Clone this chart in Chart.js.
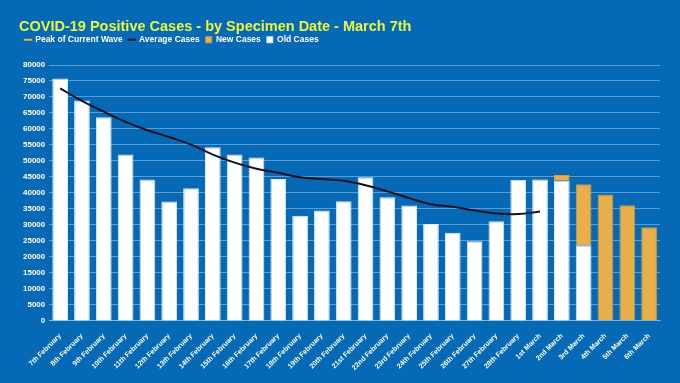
<!DOCTYPE html>
<html>
<head>
<meta charset="utf-8">
<script src="https://cdn.jsdelivr.net/npm/chart.js@4.4.0/dist/chart.umd.min.js"></script>
<style>
  html, body { margin: 0; padding: 0; background: #0669b5; }
  #wrap { width: 680px; height: 383px; }
</style>
</head>
<body>
<div id="wrap"><canvas id="chart" width="680" height="383"></canvas></div>
<script>
const labels = [
  '7th February', '8th February', '9th February', '10th February', '11th February',
  '12th February', '13th February', '14th February', '15th February', '16th February',
  '17th February', '18th February', '19th February', '20th February', '21st February',
  '22nd February', '23rd February', '24th February', '25th February', '26th February',
  '27th February', '28th February', '1st March', '2nd March', '3rd March',
  '4th March', '5th March', '6th March'
];

const oldCases = [
  75800, 68900, 63700, 52000, 44200, 37300, 41500, 54300, 52000, 51100,
  44400, 32900, 34500, 37400, 44900, 38700, 36100, 30300, 27600, 24900,
  31200, 44100, 44100, 43900, 23700, 0, 0, 0
];

const newCases = [
  0, 0, 0, 0, 0, 0, 0, 0, 0, 0,
  0, 0, 0, 0, 0, 0, 0, 0, 0, 0,
  0, 0, 300, 1700, 19000, 39500, 36200, 29300
];

const averageCases = [
  72700, 68800, 65400, 62200, 59600, 57500, 55100, 52000, 49500, 47600,
  46300, 44900, 44400, 43800, 42400, 40500, 38400, 36500, 35700, 34500,
  33600, 33400, 34200, null, null, null, null, null
];

const peakOfWave = [];

const yTicks = { min: 0, max: 80000, step: 5000 };

const WHITE = '#ffffff';
const ORANGE = '#e8af48';
const LINE = '#111122';
const PEAK = '#e8af48';
const TITLE = '#e9f53e';
const GRID = 'rgba(160, 200, 235, 0.55)';

const legendRank = ['Peak of Current Wave', 'Average Cases', 'New Cases', 'Old Cases'];

// extra gap under the legend
const legendGap = {
  id: 'legendGap',
  beforeInit(chart) {
    const fit = chart.legend.fit;
    chart.legend.fit = function () {
      fit.bind(chart.legend)();
      this.height += 11;
    };
  }
};

const config = {
  type: 'bar',
  data: {
    labels: labels,
    datasets: [{
      label: 'Old Cases',
      data: oldCases,
      backgroundColor: WHITE,
      borderColor: '#dfe9f5',
      borderWidth: 1,
      stack: 'cases',
      order: 2,
      pointStyle: 'rect'
    }, {
      label: 'New Cases',
      data: newCases,
      backgroundColor: ORANGE,
      borderColor: '#d49a36',
      borderWidth: 1,
      stack: 'cases',
      order: 3,
      pointStyle: 'rect'
    }, {
      type: 'line',
      label: 'Average Cases',
      data: averageCases,
      borderColor: LINE,
      backgroundColor: LINE,
      borderWidth: 2,
      pointRadius: 0,
      tension: 0.4,
      stack: 'avg',
      order: 1,
      pointStyle: 'line'
    }, {
      type: 'line',
      label: 'Peak of Current Wave',
      data: peakOfWave,
      borderColor: PEAK,
      backgroundColor: PEAK,
      borderWidth: 2,
      pointRadius: 0,
      stack: 'peak',
      order: 0,
      pointStyle: 'line'
    }]
  },
  options: {
    responsive: false,
    animation: false,
    layout: { padding: { left: 19, right: 20, top: 0, bottom: 8 } },
    plugins: {
      title: {
        display: true,
        text: 'COVID-19 Positive Cases - by Specimen Date - March 7th',
        align: 'start',
        color: TITLE,
        font: { family: 'Liberation Sans', size: 14.5, weight: 'bold', lineHeight: 1 },
        padding: { top: 20, bottom: -5 }
      },
      legend: {
        align: 'start',
        labels: {
          color: WHITE,
          usePointStyle: true,
          boxWidth: 6,
          boxHeight: 6,
          padding: 6,
          font: { family: 'Liberation Sans', size: 8.5, weight: 'bold' },
          sort: (a, b) => legendRank.indexOf(a.text) - legendRank.indexOf(b.text)
        }
      },
      tooltip: { enabled: false }
    },
    scales: {
      x: {
        stacked: true,
        categoryPercentage: 1,
        barPercentage: 0.64,
        grid: { display: false },
        border: { color: GRID },
        ticks: {
          color: WHITE,
          maxRotation: 45,
          minRotation: 45,
          autoSkip: false,
          font: { family: 'Liberation Sans', size: 7, weight: 'bold' }
        }
      },
      y: {
        stacked: true,
        min: yTicks.min,
        max: yTicks.max,
        grid: { color: GRID, drawTicks: false },
        border: { display: false },
        ticks: {
          stepSize: yTicks.step,
          color: WHITE,
          padding: 4,
          font: { family: 'Liberation Sans', size: 8, weight: 'bold' },
          callback: (v) => String(v)
        }
      }
    }
  },
  plugins: [legendGap]
};

new Chart(document.getElementById('chart'), config);
</script>
</body>
</html>
